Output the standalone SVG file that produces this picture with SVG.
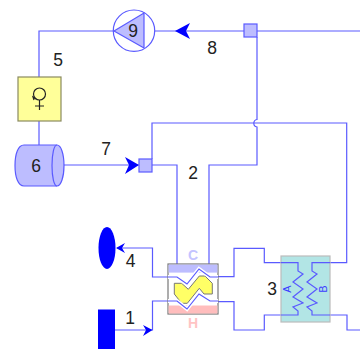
<svg xmlns="http://www.w3.org/2000/svg" width="360" height="349" viewBox="0 0 360 349">
<style>
.c{fill:none;stroke:#5a5aff;stroke-width:1.2}
.h{fill:none;stroke:#fff;stroke-width:4}
.a{fill:#0000ff;stroke:none}
.e{fill:#bdbdff;stroke:#5a5aff;stroke-width:1.2}
text{font-family:"Liberation Sans",Arial,sans-serif;font-size:17.500px;fill:#222;text-anchor:middle}
</style>
<rect width="360" height="349" fill="#fff"/>
<g id="connectors">
<path class="c" d="M155 31H244M39 77V31H114"/>
<path class="c" d="M257 31H360"/>
<path class="c" d="M257 37V119.500A3.800 3.800 0 0 0 257 127V165H209V264.500"/>
<path class="c" d="M152 159V123H346.700V262.700H312"/>
<path class="c" d="M152 165H177V264.500"/>
<path class="c" d="M39 121V145"/>
<path class="c" d="M60 165H139"/>
<path class="c" d="M117 248H152.500V277H168"/>
<path class="c" d="M115 330H152.500V301H168"/>
<path class="c" d="M218 276.700H234V248.300H264.300V262.700H281"/>
<path class="c" d="M218 301.700H234V330H264.300V315H281"/>
<path class="c" d="M330 315H347V330H360"/>
<path class="a" d="M175 31L190 23L186 31L190 39Z"/>
<path class="a" d="M139 165L125 157L129 165L125 174Z"/>
<path class="a" d="M116 248L125 243L122 248L125 253Z"/>
<path class="a" d="M152.500 330L143 325L146 330L143 336Z"/>
</g>
<g id="n9">
<circle cx="134" cy="30.700" r="20.700" fill="#fff" stroke="#5a5aff" stroke-width="1.200"/>
<path class="e" d="M114 31L144 13V48Z"/>
<text x="133" y="37">9</text>
</g>
<g id="n5">
<rect x="18" y="77" width="43" height="44" fill="#ffff99" stroke="#8a8a60" stroke-width="1.200"/>
<circle cx="39.500" cy="94" r="6" fill="none" stroke="#222" stroke-width="1.200"/>
<path d="M34 100L33 97L36 99M39.500 100V110M35 106H44" fill="none" stroke="#222" stroke-width="1.200"/>
</g>
<g id="n6">
<path class="e" d="M24 145H57C61 145 64 154 64 165.500C64 177 61 186 57 186H24C18 186 15 177 15 165.500C15 154 18 145 24 145Z"/>
<path d="M57 145C54 145 52 154 52 165.500C52 177 54 186 57 186" fill="none" stroke="#5a5aff" stroke-width="1.200"/>
<text x="36" y="172">6</text>
</g>
<g id="n7">
<rect x="139" y="159" width="13" height="13" class="e"/>
</g>
<g id="n8">
<rect x="244" y="24" width="13" height="13" class="e"/>
</g>
<g id="n1"><rect x="98" y="309.500" width="17" height="39.500" fill="#0000ff"/></g>
<g id="n4"><ellipse cx="107" cy="248" rx="8.500" ry="21" fill="#0000ff"/></g>
<g id="n2">
<rect x="168" y="264" width="50" height="50" fill="#fff" stroke="#777" stroke-width="1.200"/>
<rect x="168.600" y="264.600" width="48.800" height="8" fill="#bdbdff"/>
<rect x="168.600" y="305.500" width="48.800" height="8" fill="#ffbdbd"/>
<path d="M174.300 283.300H181.700L188.300 289.300L199.300 276H205L212.300 283.300V294H204L199.300 288.300L187.300 303.300H181.700L174.300 294Z" fill="#ffff66" stroke="#777" stroke-width="1"/>
<path class="h" d="M168 277H177L187 284L199 269L210 277H218"/>
<path class="h" d="M168 301H177L187 309L199 294L210 301H218"/>
<path class="c" d="M168 277H177L187 284L199 269L210 277H218"/>
<path class="c" d="M168 301H177L187 309L199 294L210 301H218"/>
<text x="193" y="260" style="font-size:14px;font-weight:bold;fill:#c4c4ff">C</text>
<text x="193" y="328" style="font-size:14px;font-weight:bold;fill:#ffc4c4">H</text>
</g>
<g id="n3">
<rect x="281" y="256" width="49" height="66" fill="#b2e5e5" stroke="#bbb" stroke-width="1.200"/>
<path class="c" d="M281 262.700H298V271L303 274L293 282L303 289L293 297L303 303L293 307L298 311V315H281"/>
<path class="c" d="M330 262.700H312V271L317 274L307 282L317 289L307 297L317 303L307 307L312 311V315H330"/>
<text transform="translate(291 289) rotate(-90)" style="font-size:11px;fill:#3c3cff">A</text>
<text transform="translate(327 289) rotate(-90)" style="font-size:11px;fill:#3c3cff">B</text>
</g>
<g id="labels">
<text x="58" y="66">5</text>
<text x="106" y="155">7</text>
<text x="212" y="54">8</text>
<text x="193" y="179">2</text>
<text x="130.500" y="267">4</text>
<text x="130" y="324">1</text>
<text x="272" y="295">3</text>
</g>
</svg>
